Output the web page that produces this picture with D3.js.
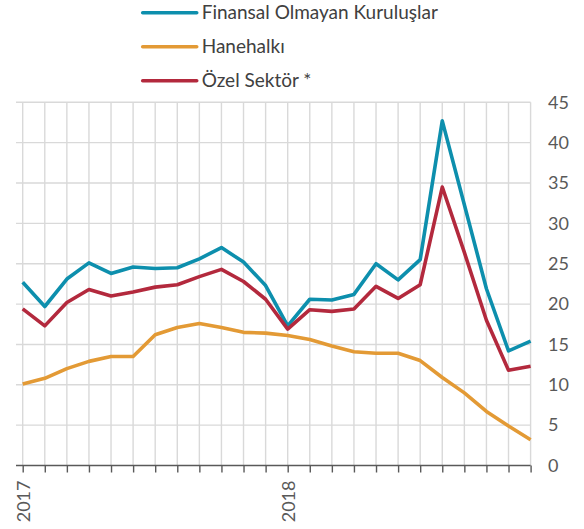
<!DOCTYPE html>
<html>
<head>
<meta charset="utf-8">
<script src="https://cdn.jsdelivr.net/npm/d3@7"></script>
<style>
  body { margin: 0; background: #fff; }
  text { font-family: Lato, "Open Sans", sans-serif; }
</style>
</head>
<body>
<div id="chart"></div>
<script>
var svgWidth = 584;
var svgHeight = 529;

// months Jan 2017 .. Dec 2018
var months = d3.range(24);
var tickLabels = ["2017", "", "", "", "", "", "", "", "", "", "", "",
                  "2018", "", "", "", "", "", "", "", "", "", "", ""];
var yTicks = [0, 5, 10, 15, 20, 25, 30, 35, 40, 45];

var seriesNames = ["Finansal Olmayan Kuruluşlar", "Hanehalkı", "Özel Sektör *"];
var seriesColors = ["#0d8fad", "#e39a35", "#b3293d"];

var finansalOlmayan = [22.7, 19.7, 23.1, 25.1, 23.8, 24.6, 24.4, 24.5, 25.6, 27.0, 25.2, 22.3,
                       17.3, 20.6, 20.5, 21.2, 25.0, 23.0, 25.5, 42.7, 32.3, 21.9, 14.2, 15.4];
var hanehalki = [10.1, 10.8, 12.0, 12.9, 13.5, 13.5, 16.2, 17.1, 17.6, 17.1, 16.5, 16.4,
                 16.1, 15.6, 14.8, 14.1, 13.9, 13.9, 13.0, 10.9, 9.0, 6.7, 4.9, 3.2];
var ozelSektor = [19.4, 17.3, 20.2, 21.8, 21.0, 21.5, 22.1, 22.4, 23.4, 24.3, 22.8, 20.6,
                  16.9, 19.3, 19.1, 19.4, 22.2, 20.7, 22.4, 34.5, 26.4, 18.0, 11.8, 12.3];

var series = [finansalOlmayan, hanehalki, ozelSektor];

var svg = d3.select("#chart")
    .append("svg")
    .attr("width", svgWidth)
    .attr("height", svgHeight);

var xScale = d3.scaleLinear()
    .domain([0, months.length - 1])
    .range([22.7, 530.6]);

var yScale = d3.scaleLinear()
    .domain([0, 45])
    .range([465.5, 102.3]);

var gridLeft = 16;

// horizontal grid
svg.append("g")
    .selectAll("line")
    .data(yTicks.filter(d => d > 0))
    .enter()
    .append("line")
    .attr("x1", gridLeft)
    .attr("x2", xScale(23))
    .attr("y1", d => yScale(d))
    .attr("y2", d => yScale(d))
    .attr("stroke", "#d9d9d9")
    .attr("stroke-width", 1.4);

// vertical grid
svg.append("g")
    .selectAll("line")
    .data(months)
    .enter()
    .append("line")
    .attr("x1", d => xScale(d))
    .attr("x2", d => xScale(d))
    .attr("y1", yScale(45))
    .attr("y2", yScale(0))
    .attr("stroke", "#d9d9d9")
    .attr("stroke-width", 1.4);

// bottom axis
var bottomAxis = d3.axisBottom(xScale)
    .tickValues(months)
    .tickSize(7)
    .tickSizeOuter(0)
    .tickFormat(d => tickLabels[d]);

var xAxisG = svg.append("g")
    .attr("transform", `translate(0, ${yScale(0)})`)
    .call(bottomAxis);

xAxisG.select(".domain").remove();
xAxisG.append("line")
    .attr("x1", gridLeft)
    .attr("x2", xScale(23))
    .attr("stroke", "#595959")
    .attr("stroke-width", 1.4);
xAxisG.selectAll(".tick line")
    .attr("stroke", "#595959")
    .attr("stroke-width", 1.4);
xAxisG.selectAll(".tick text")
    .attr("transform", "translate(0, 15) rotate(-90)")
    .attr("text-anchor", "end")
    .attr("x", 0)
    .attr("y", 0)
    .attr("dy", "0.36em")
    .attr("fill", "#595959")
    .attr("font-size", 18);

// right axis
var rightAxis = d3.axisRight(yScale)
    .tickValues(yTicks)
    .tickSize(0)
    .tickPadding(0);

var yAxisG = svg.append("g")
    .attr("transform", `translate(548, 0)`)
    .call(rightAxis);

yAxisG.select(".domain").remove();
yAxisG.selectAll(".tick text")
    .attr("fill", "#595959")
    .attr("font-size", 18);

// lines
var line = d3.line()
    .x((d, i) => xScale(i))
    .y(d => yScale(d));

svg.append("g")
    .selectAll("path")
    .data(series)
    .enter()
    .append("path")
    .attr("d", d => line(d))
    .attr("fill", "none")
    .attr("stroke", (d, i) => seriesColors[i])
    .attr("stroke-width", 3.6)
    .attr("stroke-linejoin", "round");

// legend
var legend = svg.append("g")
    .selectAll("g")
    .data(seriesNames)
    .enter()
    .append("g")
    .attr("transform", (d, i) => `translate(142.7, ${12.7 + i * 34})`);

legend.append("line")
    .attr("x1", 0)
    .attr("x2", 54)
    .attr("stroke", (d, i) => seriesColors[i])
    .attr("stroke-width", 3.6)
    .attr("stroke-linecap", "round");

legend.append("text")
    .attr("x", 59)
    .attr("dy", "0.35em")
    .attr("fill", "#404040")
    .attr("font-size", 19)
    .text(d => d);
</script>
</body>
</html>
